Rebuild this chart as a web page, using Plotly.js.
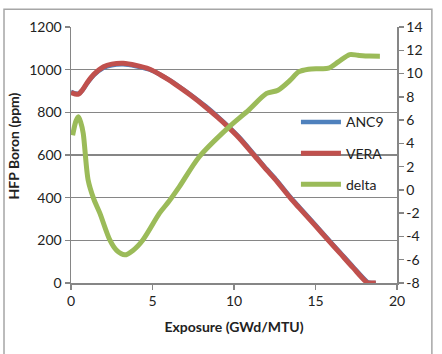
<!DOCTYPE html>
<html>
<head>
<meta charset="utf-8">
<script src="https://cdn.plot.ly/plotly-3.0.1.min.js"></script>
<style>
html,body{margin:0;padding:0;background:#fff;}
#chart{width:442px;height:354px;}
</style>
</head>
<body>
<div id="chart"></div>
<script>
// Boron concentration (ppm) vs exposure (GWd/MTU)
var veraExposure = [0, 0.25, 0.45, 0.7, 1.0, 1.4, 2.0, 2.5, 3.2, 4.0, 4.8, 5.5, 6.0, 6.65, 7.3, 8.27, 9.0, 9.6, 10.3, 11.22, 12.0, 12.5, 13.44, 14.0, 15.0, 15.79, 16.5, 17.3, 18.15, 18.3, 18.7];
var veraBoron    = [892, 886, 885, 905, 940, 978, 1014, 1026, 1030, 1020, 1003, 975, 952, 918, 882, 824, 776, 734, 681, 600, 530, 488, 400, 352, 268, 200, 140, 72, 3, 0, 0];
var anc9Exposure = [0, 0.25, 0.45, 0.7, 1.0, 1.4, 2.0, 2.5, 3.2, 4.0, 4.8, 5.5, 6.0, 6.65, 7.3, 8.27, 9.0, 9.6, 10.3, 11.22, 12.0, 12.5, 13.44, 14.0, 15.0, 15.79, 16.5, 17.3, 18.15, 18.3, 18.7];
var anc9Boron    = [896, 889, 887, 904, 937, 974, 1009, 1021, 1025, 1016, 1001, 975, 953, 920, 885, 828, 780, 738, 685, 604, 534, 492, 404, 356, 272, 204, 144, 76, 7, 2, 0];
// Difference between the two (right axis)
var deltaExposure = [0.1, 0.3, 0.45, 0.6, 0.75, 1.05, 1.4, 1.77, 2.38, 2.8, 3.3, 3.8, 4.41, 5.43, 6.0, 6.65, 7.87, 9.7, 10.9, 12.0, 12.7, 13.45, 13.96, 14.57, 15.2, 15.8, 16.4, 17.1, 17.6, 18.3, 18.95];
var deltaValues   = [4.7, 5.9, 6.28, 5.8, 4.86, 0.85, -0.8, -2.0, -4.3, -5.2, -5.58, -5.2, -4.3, -2.0, -1.0, 0.28, 2.85, 5.42, 6.86, 8.29, 8.57, 9.43, 10.14, 10.37, 10.42, 10.46, 11.0, 11.63, 11.57, 11.5, 11.49];

var xTicks = [0, 5, 10, 15, 20];
var y1Ticks = [0, 200, 400, 600, 800, 1000, 1200];
var y2Ticks = [-8, -6, -4, -2, 0, 2, 4, 6, 8, 10, 12, 14];
var y2TickLabels = ['-8', '-6', '-4', '-2', '0', '2', '4', '6', '8', '10', '12', '14'];

var font = 'Lato, "Open Sans", sans-serif';

var traces = [
  {x: deltaExposure, y: deltaValues, name: 'delta', yaxis: 'y2', mode: 'lines',
   line: {color: '#9BBB59', width: 5, shape: 'spline', smoothing: 0.8},
   legendgroup: 'c', legendrank: 3},
  {x: anc9Exposure, y: anc9Boron, name: 'ANC9', mode: 'lines',
   line: {color: '#4F81BD', width: 4.5, shape: 'spline', smoothing: 0.8},
   legendgroup: 'a', legendrank: 1},
  {x: veraExposure, y: veraBoron, name: 'VERA', mode: 'lines',
   line: {color: '#C0504D', width: 5, shape: 'spline', smoothing: 0.8},
   legendgroup: 'b', legendrank: 2}
];

var axisCommon = {
  showline: true, linecolor: '#868686', linewidth: 1.5,
  ticks: 'outside', ticklen: 5, tickcolor: '#868686', tickwidth: 1.5,
  tickfont: {family: font, size: 14, color: '#222'},
  zeroline: false
};

var layout = {
  width: 442, height: 354,
  margin: {l: 71, r: 45, t: 27, b: 71},
  paper_bgcolor: '#fff', plot_bgcolor: '#fff',
  font: {family: font, color: '#222'},
  showlegend: true,
  legend: {x: 0.69, y: 0.69, xanchor: 'left', yanchor: 'top',
           bgcolor: 'rgba(0,0,0,0)', font: {family: font, size: 14, color: '#222'},
           tracegroupgap: 10, itemwidth: 40, traceorder: 'grouped'},
  xaxis: Object.assign({}, axisCommon, {
    range: [0, 20], tickvals: xTicks, showgrid: false,
    title: {text: '<b>Exposure (GWd/MTU)</b>', font: {family: font, size: 14, color: '#222'}, standoff: 14}
  }),
  yaxis: Object.assign({}, axisCommon, {
    range: [0, 1200], tickvals: y1Ticks, showgrid: true, gridcolor: '#868686', gridwidth: 1.5,
    title: {text: '&nbsp;&nbsp;&nbsp;&nbsp;&nbsp;<b>HFP Boron (ppm)</b>', font: {family: font, size: 14, color: '#222'}, standoff: 6}
  }),
  yaxis2: Object.assign({}, axisCommon, {
    range: [-8, 14], tickvals: y2Ticks, ticktext: y2TickLabels, overlaying: 'y', side: 'right', showgrid: false
  }),
  shapes: [{type: 'rect', xref: 'paper', yref: 'paper',
            x0: -0.2055, x1: 1.107, y0: -0.3, y1: 1.069,
            line: {color: '#a6a6a6', width: 1.5}, fillcolor: 'rgba(0,0,0,0)', layer: 'below'}]
};

Plotly.newPlot('chart', traces, layout, {displayModeBar: false, staticPlot: true});
</script>
</body>
</html>
